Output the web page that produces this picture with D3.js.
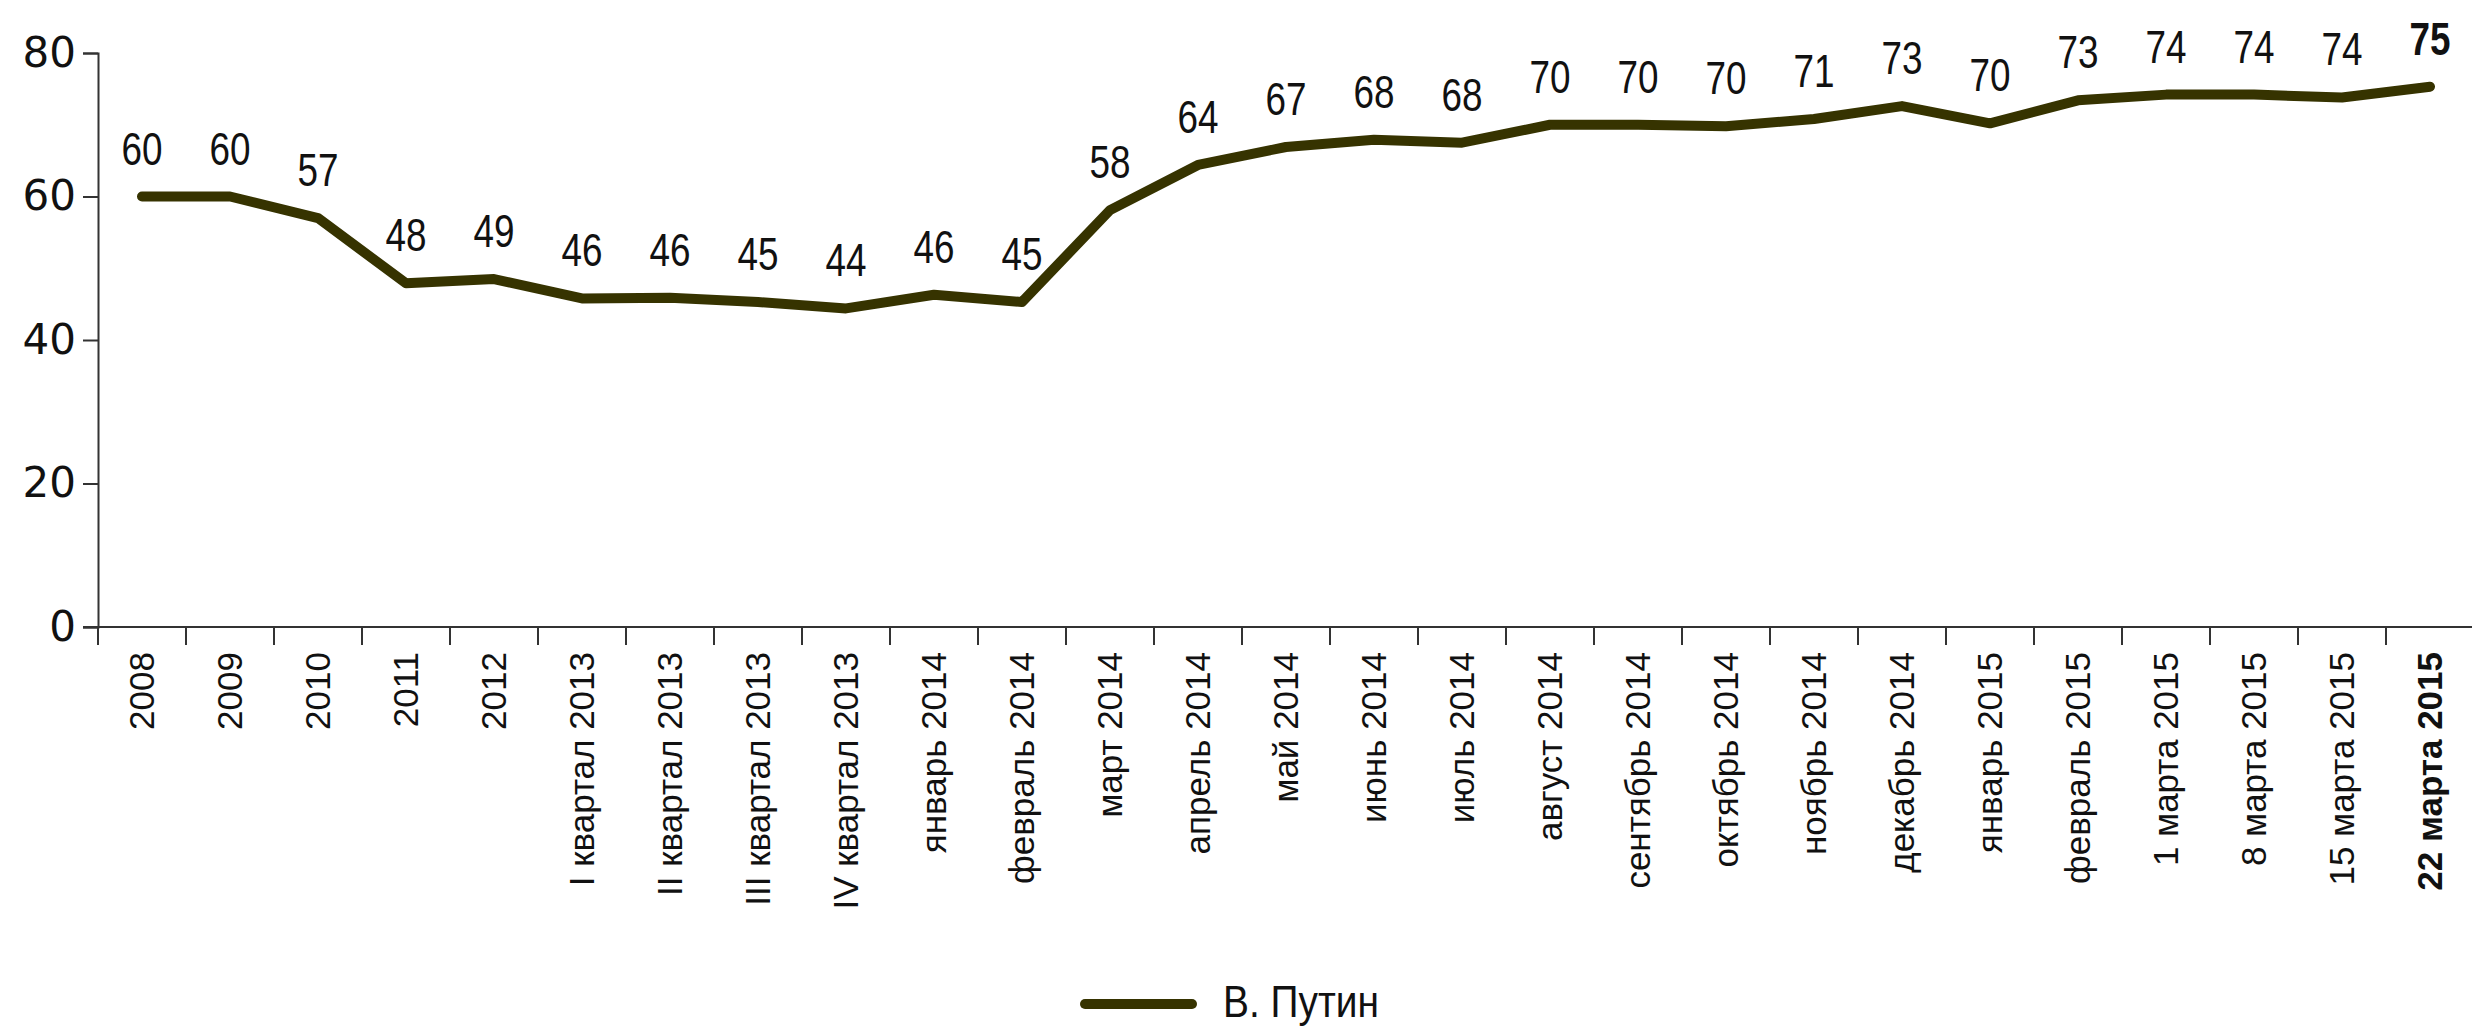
<!DOCTYPE html>
<html>
<head>
<meta charset="utf-8">
<script src="https://cdn.jsdelivr.net/npm/d3@7"></script>
<style>
    body { margin: 0; background: #fff; }
    svg { display: block; }
</style>
</head>
<body>
<script>
// periods on the x axis
const categories = ["2008", "2009", "2010", "2011", "2012",
    "I квартал 2013", "II квартал 2013", "III квартал 2013", "IV квартал 2013",
    "январь 2014", "февраль 2014", "март 2014", "апрель 2014", "май 2014",
    "июнь 2014", "июль 2014", "август 2014", "сентябрь 2014", "октябрь 2014",
    "ноябрь 2014", "декабрь 2014", "январь 2015", "февраль 2015",
    "1 марта 2015", "8 марта 2015", "15 марта 2015", "22 марта 2015"]

// line values
const values = [60, 60, 57, 47.9, 48.5, 45.8, 45.9, 45.3, 44.4, 46.3, 45.3,
    58.1, 64.4, 66.9, 67.9, 67.5, 70, 70, 69.8, 70.8, 72.6, 70.2, 73.4,
    74.2, 74.2, 73.8, 75.3]

// numbers printed over the line
const labels = [60, 60, 57, 48, 49, 46, 46, 45, 44, 46, 45, 58, 64, 67, 68, 68,
    70, 70, 70, 71, 73, 70, 73, 74, 74, 74, 75]

const yTicks = [0, 20, 40, 60, 80]
const seriesName = "В. Путин"

const measurements = {
    width: 2472,
    height: 1027
}
const lineColor = '#363300'
const labelFont = '"Liberation Sans", Arial, sans-serif'

const svg = d3.select("body").append('svg')
    .attr('width', measurements.width)
    .attr('height', measurements.height)

// scales
const x = d3.scaleBand()
    .domain(categories)
    .range([98, 98 + 88 * categories.length])

const y = d3.scaleLinear()
    .domain([0, 80])
    .range([627, 53])

// y axis
const yAxis = svg.append('g')
    .attr('transform', 'translate(98,0)')
    .call(d3.axisLeft(y).tickValues(yTicks).tickSize(15).tickPadding(7))
yAxis.select('.domain').attr('stroke', '#333').attr('stroke-width', 2)
yAxis.selectAll('.tick line').attr('stroke', '#333').attr('stroke-width', 2)
yAxis.selectAll('.tick text')
    .attr('fill', '#111')
    .style('font-family', '"DejaVu Sans", sans-serif')
    .style('font-size', '42px')

// x axis: labels at band centres, ticks between categories
const xAxis = svg.append('g')
    .attr('transform', 'translate(0,' + y(0) + ')')
    .call(d3.axisBottom(x).tickSize(0).tickPadding(0))
xAxis.select('.domain').remove()
xAxis.selectAll('.tick text')
    .attr('transform', 'translate(0,25) rotate(-90)')
    .attr('text-anchor', 'end')
    .attr('dy', '0.35em')
    .attr('fill', '#111')
    .style('font-family', '"Liberation Sans", Arial, sans-serif')
    .style('font-size', '35px')
    .style('font-weight', d => d === categories[categories.length - 1] ? 'bold' : 'normal')

svg.append('line')
    .attr('x1', 83)
    .attr('x2', measurements.width)
    .attr('y1', y(0))
    .attr('y2', y(0))
    .attr('stroke', '#333')
    .attr('stroke-width', 2)

svg.append('g').selectAll('line')
    .data(categories)
    .enter()
    .append('line')
    .attr('x1', d => x(d))
    .attr('x2', d => x(d))
    .attr('y1', y(0))
    .attr('y2', y(0) + 18)
    .attr('stroke', '#333')
    .attr('stroke-width', 2)

// the line itself
const points = categories.map((c, i) => ({ cat: c, value: values[i], label: labels[i] }))

const line = d3.line()
    .x(d => x(d.cat) + x.bandwidth() / 2)
    .y(d => y(d.value))

svg.append('path')
    .datum(points)
    .attr('d', line)
    .attr('fill', 'none')
    .attr('stroke', lineColor)
    .attr('stroke-width', 10)
    .attr('stroke-linejoin', 'round')
    .attr('stroke-linecap', 'round')

// value labels (narrow, like the original condensed face)
svg.append('g').selectAll('text')
    .data(points)
    .enter()
    .append('text')
    .attr('x', d => x(d.cat) + x.bandwidth() / 2)
    .attr('y', d => y(d.value) - 32)
    .attr('text-anchor', 'middle')
    .attr('textLength', 41)
    .attr('lengthAdjust', 'spacingAndGlyphs')
    .attr('fill', '#111')
    .style('font-family', labelFont)
    .style('font-size', '47px')
    .style('font-weight', (d, i) => i === points.length - 1 ? 'bold' : 'normal')
    .text(d => d.label)

// legend
const legend = svg.append('g')
legend.append('line')
    .attr('x1', 1085)
    .attr('x2', 1192)
    .attr('y1', 1004)
    .attr('y2', 1004)
    .attr('stroke', lineColor)
    .attr('stroke-width', 10)
    .attr('stroke-linecap', 'round')
legend.append('text')
    .attr('x', 1223)
    .attr('y', 1017)
    .attr('textLength', 156)
    .attr('lengthAdjust', 'spacingAndGlyphs')
    .attr('fill', '#111')
    .style('font-family', labelFont)
    .style('font-size', '44px')
    .text(seriesName)
</script>
</body>
</html>
